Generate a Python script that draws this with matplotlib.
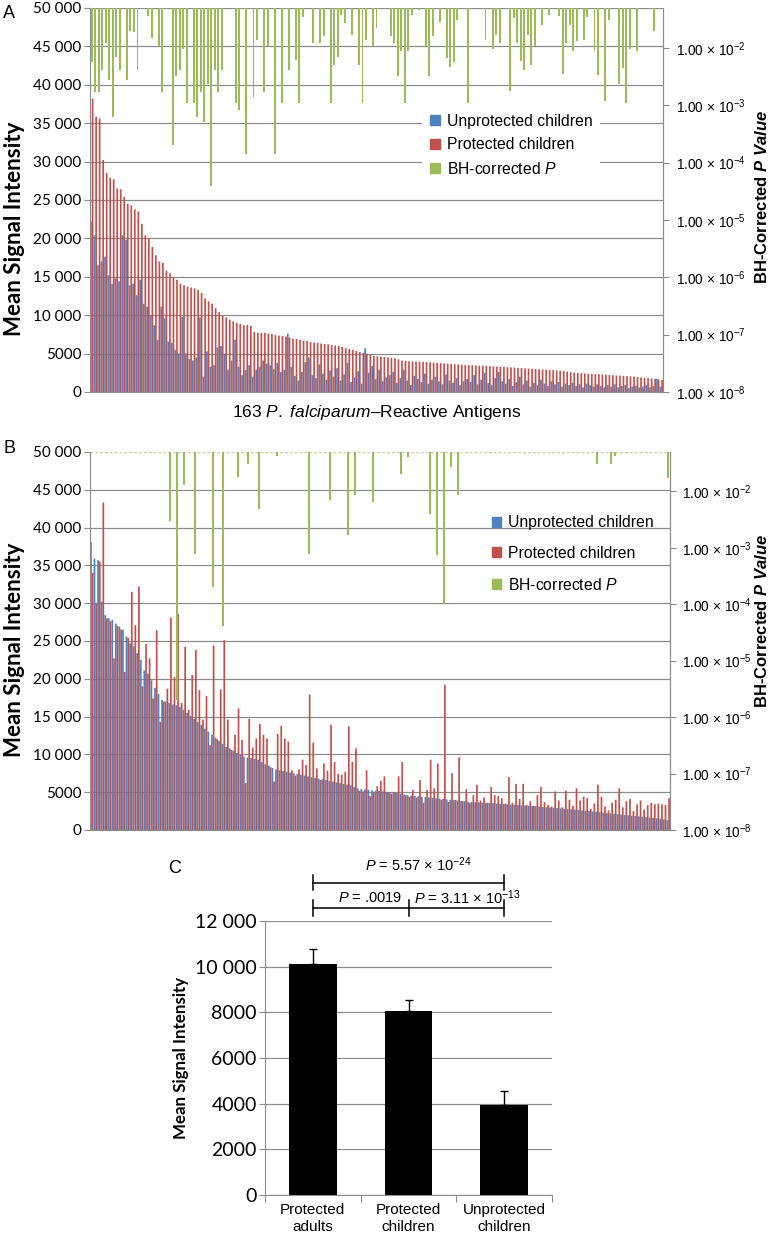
import numpy as np
import matplotlib.pyplot as plt
from matplotlib.patches import Patch
from matplotlib.ticker import FixedLocator, FuncFormatter, NullLocator

plt.rcParams['font.family'] = ['Liberation Sans', 'DejaVu Sans']
plt.rcParams['mathtext.fontset'] = 'custom'
plt.rcParams['mathtext.rm'] = 'Liberation Sans'
plt.rcParams['mathtext.it'] = 'Liberation Sans:italic'
plt.rcParams['mathtext.bf'] = 'Liberation Sans:bold'
plt.rcParams['mathtext.bfit'] = 'Liberation Sans:bold:italic'

# ---- panel A: 163 antigens, sorted by protected children ----
a_prot = [
    38200, 35850, 35600, 30200, 28500, 27900, 27700, 26500, 26400, 25400,
    24500, 24300, 23800, 23500, 21900, 20400, 20000, 18900, 17800, 17000,
    16800, 15800, 15450, 15000, 14600, 14100, 13900, 13700, 13600, 13500,
    13300, 12900, 12200, 11800, 11500, 10900, 10400, 10000, 9700, 9400,
    9200, 9000, 8850, 8700, 8700, 8600, 7800, 7700, 7700, 7700,
    7600, 7550, 7400, 7350, 7300, 7200, 7100, 6950, 6900, 6800,
    6700, 6650, 6500, 6450, 6400, 6300, 6250, 6200, 6100, 6050,
    6000, 5850, 5700, 5600, 5500, 5350, 5200, 5100, 5000, 4850,
    4700, 4650, 4600, 4550, 4500, 4450, 4400, 4250, 4100, 4050,
    4000, 3980, 3960, 3950, 3920, 3900, 3870, 3830, 3800, 3760,
    3720, 3680, 3640, 3600, 3580, 3550, 3520, 3500, 3480, 3460,
    3440, 3420, 3400, 3370, 3340, 3310, 3280, 3250, 3220, 3200,
    3170, 3140, 3110, 3080, 3050, 3020, 2990, 2960, 2930, 2900,
    2870, 2850, 2820, 2780, 2720, 2650, 2580, 2520, 2480, 2450,
    2420, 2390, 2360, 2330, 2300, 2270, 2240, 2210, 2180, 2150,
    2120, 2090, 2060, 2030, 2000, 1950, 1900, 1850, 1800, 1750,
    1700, 1620, 1550]
a_unprot = [
    22200, 20400, 16500, 17000, 17600, 15200, 14100, 14800, 14400, 20400,
    19800, 13900, 14100, 12600, 14600, 11500, 11100, 10000, 8700, 6800,
    11100, 9600, 6600, 6400, 5500, 5000, 9800, 5000, 4300, 4100,
    4500, 9700, 2000, 5300, 3300, 3500, 5800, 6000, 5000, 2900,
    4100, 6800, 3300, 2200, 2900, 3500, 2000, 2900, 3300, 4100,
    3700, 3500, 3000, 3800, 2600, 2900, 7600, 3300, 2100, 1500,
    2600, 3900, 4500, 2200, 1800, 3600, 2400, 1600, 2800, 2000,
    3100, 1500, 2300, 3800, 1300, 1900, 2700, 1100, 5700, 2500,
    3400, 1700, 2900, 1400, 1900, 2200, 2600, 1200, 1800, 2900,
    1500, 900, 2100, 1700, 1300, 2400, 1100, 1600, 2000, 1400,
    1000, 2300, 1500, 1200, 1800, 900, 1400, 1700, 1300, 2200,
    1000, 1600, 2500, 1200, 900, 1800, 2600, 1400, 1100, 1700,
    800, 1300, 2000, 1000, 1500, 700, 1200, 900, 1600, 1100,
    800, 1400, 1000, 1300, 700, 1100, 900, 1200, 800, 1000,
    600, 1100, 900, 700, 1000, 800, 600, 900, 700, 1000,
    600, 800, 900, 500, 700, 800, 600, 700, 900, 600,
    800, 1700, 700]
a_sig_idx = [0, 1, 2, 3, 4, 5, 6, 7, 8, 10, 11, 12, 13, 16, 17, 19, 20, 23, 24, 25,
             26, 27, 29, 30, 31, 32, 33, 34, 35, 36, 37, 41, 42, 44, 46, 47, 49, 50, 52, 54,
             56, 58, 59, 60, 63, 65, 66, 68, 69, 70, 71, 72, 74, 76, 77, 78, 80, 81, 85, 86,
             87, 88, 89, 90, 91, 93, 95, 96, 97, 99, 101, 102, 103, 104, 107, 112, 114, 115, 116, 119,
             120, 121, 122, 123, 124, 125, 126, 128, 130, 133, 134, 135, 136, 137, 138, 140, 141, 143, 144, 146,
             147, 150, 151, 152, 153, 155, 160]
a_sig_p = [0.0058, 0.0017, 0.0017, 0.0042, 0.012, 0.0028, 6.3e-4, 0.0069, 0.0042, 0.0028,
           0.020, 0.019, 0.0042, 0.036, 0.015, 0.011, 0.0017, 2.0e-4, 0.0032, 0.0042,
           0.0098, 0.0011, 0.0011, 6.3e-4, 0.0017, 5.2e-4, 0.0024, 3.9e-5, 0.0042, 0.0017,
           0.0042, 0.0011, 8.3e-4, 1.4e-4, 0.0014, 0.0138, 0.0017, 0.011, 1.4e-4, 0.0011,
           0.0042, 0.0062, 0.0011, 0.035, 0.012, 0.012, 0.016, 0.0011, 0.0050, 0.0071,
           0.038, 0.027, 0.017, 0.0050, 0.0011, 0.0138, 0.011, 0.022, 0.016, 0.012,
           0.0032, 0.0087, 0.0011, 0.0087, 0.038, 0.046, 0.011, 0.0032, 0.016, 0.029,
           0.0066, 0.0047, 0.0058, 0.031, 0.0011, 0.014, 0.0098, 0.017, 0.012, 0.0018,
           0.033, 0.012, 0.0059, 0.0042, 0.017, 0.0050, 0.011, 0.025, 0.038, 0.036,
           0.0035, 0.012, 0.025, 0.0087, 0.013, 0.014, 0.035, 0.0087, 0.0034, 0.0012,
           0.031, 0.0024, 0.0045, 0.0011, 0.0098, 0.0087, 0.020]

# ---- panel B: sorted by unprotected children ----
b_unprot = [
    38100, 35900, 35700, 30200, 28400, 28000, 27800, 27300, 26900, 26500,
    25600, 24700, 24300, 23400, 22500, 21100, 20700, 19800, 18800, 18000,
    17200, 17000, 16800, 16600, 16500, 16300, 15900, 15500, 15100, 14700,
    14300, 13900, 13400, 13000, 12600, 12200, 11800, 11400, 11000, 10800,
    10500, 10200, 9900, 9700, 9600, 9500, 9400, 9300, 9000, 8700,
    8500, 8200, 8000, 7900, 7800, 7700, 7600, 7500, 7400, 7300,
    7200, 7100, 7000, 6900, 6800, 6700, 6600, 6500, 6400, 6300,
    6200, 6100, 6000, 5900, 5700, 5500, 5400, 5350, 5300, 5250,
    5200, 5150, 5100, 5050, 5000, 4950, 4900, 4800, 4700, 4600,
    4550, 4500, 4450, 4400, 4350, 4300, 4250, 4200, 4150, 4100,
    4050, 4000, 3950, 3900, 3850, 3800, 3750, 3720, 3680, 3650,
    3620, 3600, 3570, 3540, 3500, 3470, 3440, 3400, 3370, 3340,
    3300, 3270, 3240, 3200, 3170, 3140, 3100, 3060, 3020, 2980,
    2940, 2900, 2860, 2820, 2780, 2740, 2700, 2650, 2600, 2550,
    2500, 2450, 2400, 2350, 2300, 2250, 2200, 2150, 2100, 2050,
    2000, 1950, 1900, 1850, 1800, 1750, 1700, 1650, 1600, 1550,
    1480, 1400, 1300]
b_prot = [
    34000, 30000, 35500, 43300, 28000, 27600, 22700, 27000, 26500, 20900,
    25400, 31500, 27100, 32200, 19000, 24600, 22700, 17400, 26400, 14300,
    17000, 18700, 28100, 20200, 28600, 16800, 24200, 15900, 20500, 23800,
    18500, 14600, 17700, 11200, 24400, 12000, 18600, 25100, 14600, 10600,
    12600, 16100, 11900, 6200, 14700, 10900, 12100, 14000, 12600, 12100,
    8300, 6400, 12700, 13800, 12100, 11700, 7900, 7200, 8000, 9300,
    8600, 17900, 11550, 8150, 6600, 8800, 7850, 13900, 9000, 7400,
    7300, 7700, 13700, 9000, 10800, 5200, 5100, 7900, 4500, 5000,
    5800, 6500, 7100, 5000, 4800, 5000, 7100, 9000, 4600, 4400,
    5300, 4300, 6600, 3600, 5300, 9300, 5500, 8800, 4000, 19200,
    3700, 7500, 4000, 9600, 3800, 5400, 3600, 4600, 6000, 3900,
    4300, 3600, 5700, 4600, 4500, 4200, 3500, 7000, 3600, 6100,
    4100, 6100, 3300, 3800, 3200, 4600, 5700, 3700, 3300, 3100,
    5100, 3900, 3000, 5200, 4000, 3200, 5500, 3900, 4400, 4200,
    2800, 3500, 6000, 4400, 3100, 2600, 3600, 4000, 5500, 3000,
    3800, 4100, 2500, 3400, 3900, 2700, 3300, 3600, 3400, 3500,
    3400, 3300, 4200]
b_sig_idx = [22, 24, 26, 29, 34, 37, 41, 44, 47, 52, 61, 67, 72, 74, 79, 87, 89, 95, 97, 99,
             101, 103, 142, 146, 147, 162]
b_sig_p = [0.0030, 2.0e-6, 0.013, 7.9e-4, 2.0e-4, 4.1e-5, 0.018, 0.030, 0.0049, 0.042,
           7.9e-4, 0.0069, 0.0017, 0.0085, 0.0066, 0.020, 0.040, 0.0040, 7.6e-4, 1.0e-4,
           0.027, 0.0085, 0.030, 0.030, 0.042, 0.017]

# ---- panel C ----
c_groups = ['Protected\nadults', 'Protected\nchildren', 'Unprotected\nchildren']
c_means = [10100, 8040, 3930]
c_err = [690, 490, 620]

BLUE = '#4F81BD'
RED = '#C0504D'
GREEN = '#9BBB59'
GRID = '#8c8c8c'
P_TOP = 0.05


def fmt_int(v, pos):
    v = int(round(v))
    return f"{v:,}".replace(",", " ") if v >= 10000 else str(v)


def fmt_p(v, pos):
    return r"1.00 × 10$^{%d}$" % round(np.log10(v))


def intensity_panel(rect, unprot, prot, sig_idx, sig_p):
    ax = fig.add_axes(rect)
    x = np.arange(len(prot))
    ax.bar(x - 0.24, unprot, width=0.48, color=BLUE, lw=0, snap=False)
    ax.bar(x + 0.24, prot, width=0.48, color=RED, lw=0, snap=False)
    ax.set_xlim(-0.5, len(prot) - 0.5)
    ax.set_ylim(0, 50000)
    ax.yaxis.set_major_locator(FixedLocator(np.arange(0, 50001, 5000)))
    ax.yaxis.set_major_formatter(FuncFormatter(fmt_int))
    ax.grid(axis='y', color=GRID, lw=0.9)
    ax.set_axisbelow(True)
    ax.set_xticks([])
    ax.spines['top'].set_visible(False)
    for s in ['left', 'bottom', 'right']:
        ax.spines[s].set_color(GRID)
    ax.tick_params(axis='y', length=4, color=GRID, labelsize=11, pad=2,
                   labelfontfamily='Lato')

    ax2 = ax.twinx()
    ax2.set_yscale('log')
    ax2.bar(sig_idx, np.array(sig_p) - P_TOP, bottom=P_TOP, width=0.55,
            color=GREEN, lw=0)
    ax2.set_ylim(1e-8, P_TOP)
    ax2.set_xlim(-0.5, len(prot) - 0.5)
    ax2.yaxis.set_major_locator(FixedLocator([1e-2, 1e-3, 1e-4, 1e-5, 1e-6, 1e-7, 1e-8]))
    ax2.yaxis.set_minor_locator(NullLocator())
    ax2.yaxis.set_major_formatter(FuncFormatter(fmt_p))
    ax2.tick_params(axis='y', length=4, color=GRID, labelsize=9.8, pad=5)
    for s in ['left', 'bottom', 'top']:
        ax2.spines[s].set_visible(False)
    ax2.spines['right'].set_color(GRID)
    return ax, ax2


fig = plt.figure(figsize=(7.7, 12.44), dpi=100)

handles = [Patch(color=BLUE, label='Unprotected children'),
           Patch(color=RED, label='Protected children'),
           Patch(color=GREEN, label=r'BH-corrected $\it{P}$')]

# panel A
axA, axA2 = intensity_panel([0.1169, 0.6849, 0.7442, 0.3087],
                            a_unprot, a_prot, a_sig_idx, a_sig_p)
axA.set_xlabel(r'$\it{163\ P.\ falciparum}$–Reactive Antigens', fontsize=12.5, labelpad=8)
legA = axA2.legend(handles=handles, loc='upper left', bbox_to_anchor=(0.58, 0.745),
                   fontsize=11.3, frameon=True, framealpha=1, edgecolor='none',
                   handlelength=0.6, handleheight=0.6, handletextpad=0.45,
                   labelspacing=0.55, borderpad=0.5, borderaxespad=0)

# panel B
axB, axB2 = intensity_panel([0.1169, 0.3328, 0.7532, 0.3039],
                            b_unprot, b_prot, b_sig_idx, b_sig_p)
axB.get_ygridlines()[-1].set_visible(False)
axB.axhline(50000, color='#c3d3a0', lw=1, ls=(0, (2, 1.5)))
legB = axB2.legend(handles=handles, loc='upper left', bbox_to_anchor=(0.685, 0.845),
                   fontsize=11.3, frameon=False,
                   handlelength=0.6, handleheight=0.6, handletextpad=0.45,
                   labelspacing=1.0, borderpad=0.3, borderaxespad=0)

for y in [0.816, 0.478]:
    fig.text(0.019, y, 'Mean Signal Intensity', rotation=90, ha='center', va='center',
             fontsize=16, fontweight='bold', family='Lato')
for y in [0.842, 0.501]:
    fig.text(0.990, y, r'BH-Corrected $\mathbfit{P\ Value}$', rotation=90, ha='center',
             va='center', fontsize=12, fontweight='bold')
fig.text(0.004, 0.996, 'A', fontsize=13, va='top', ha='left')
fig.text(0.004, 0.646, 'B', fontsize=13, va='top', ha='left')

# panel C
axC = fig.add_axes([0.3442, 0.0394, 0.3727, 0.2203])
xc = np.arange(len(c_means))
axC.bar(xc, c_means, width=0.5, color='black', zorder=2)
axC.errorbar(xc, c_means, yerr=[[0] * len(c_err), c_err], fmt='none', ecolor='black',
             elinewidth=1, capsize=3, capthick=1, zorder=3)
axC.set_xlim(-0.5, 2.5)
axC.set_ylim(0, 12000)
axC.yaxis.set_major_locator(FixedLocator(np.arange(0, 12001, 2000)))
axC.yaxis.set_major_formatter(FuncFormatter(fmt_int))
axC.grid(axis='y', color=GRID, lw=0.9)
axC.set_axisbelow(True)
axC.set_xticks([-0.5, 0.5, 1.5, 2.5])
axC.set_xticklabels([])
axC.set_xticks(xc, c_groups, minor=True)
axC.tick_params(axis='x', which='major', length=5, color=GRID)
axC.tick_params(axis='x', which='minor', length=0, labelsize=11, pad=6)
axC.tick_params(axis='y', length=4, color=GRID, labelsize=14, pad=2, labelfontfamily='Lato')
for s in ['top', 'right']:
    axC.spines[s].set_visible(False)
for s in ['left', 'bottom']:
    axC.spines[s].set_color(GRID)
axC.set_ylabel('Mean Signal Intensity', fontsize=12.2, fontweight='bold', family='Lato',
               labelpad=4)

# significance brackets
br_kw = dict(color='black', lw=1.1, clip_on=False)
axC.plot([0, 2], [13660, 13660], **br_kw)
for xb in [0, 2]:
    axC.plot([xb, xb], [13360, 14010], **br_kw)
axC.plot([0, 2], [12570, 12570], **br_kw)
for xb in [0, 1, 2]:
    axC.plot([xb, xb], [12220, 12920], **br_kw)
axC.text(1.1, 14450, r'$\it{P}$ = 5.57 × 10$^{-24}$', ha='center', va='center', fontsize=10.5)
axC.text(0.6, 13000, r'$\it{P}$ = .0019', ha='center', va='center', fontsize=10.5)
axC.text(1.62, 13000, r'$\it{P}$ = 3.11 × 10$^{-13}$', ha='center', va='center', fontsize=10.5)
fig.text(0.227, 0.302, 'C', fontsize=13, va='center', ha='center')

fig.savefig('out.png', dpi=100)
